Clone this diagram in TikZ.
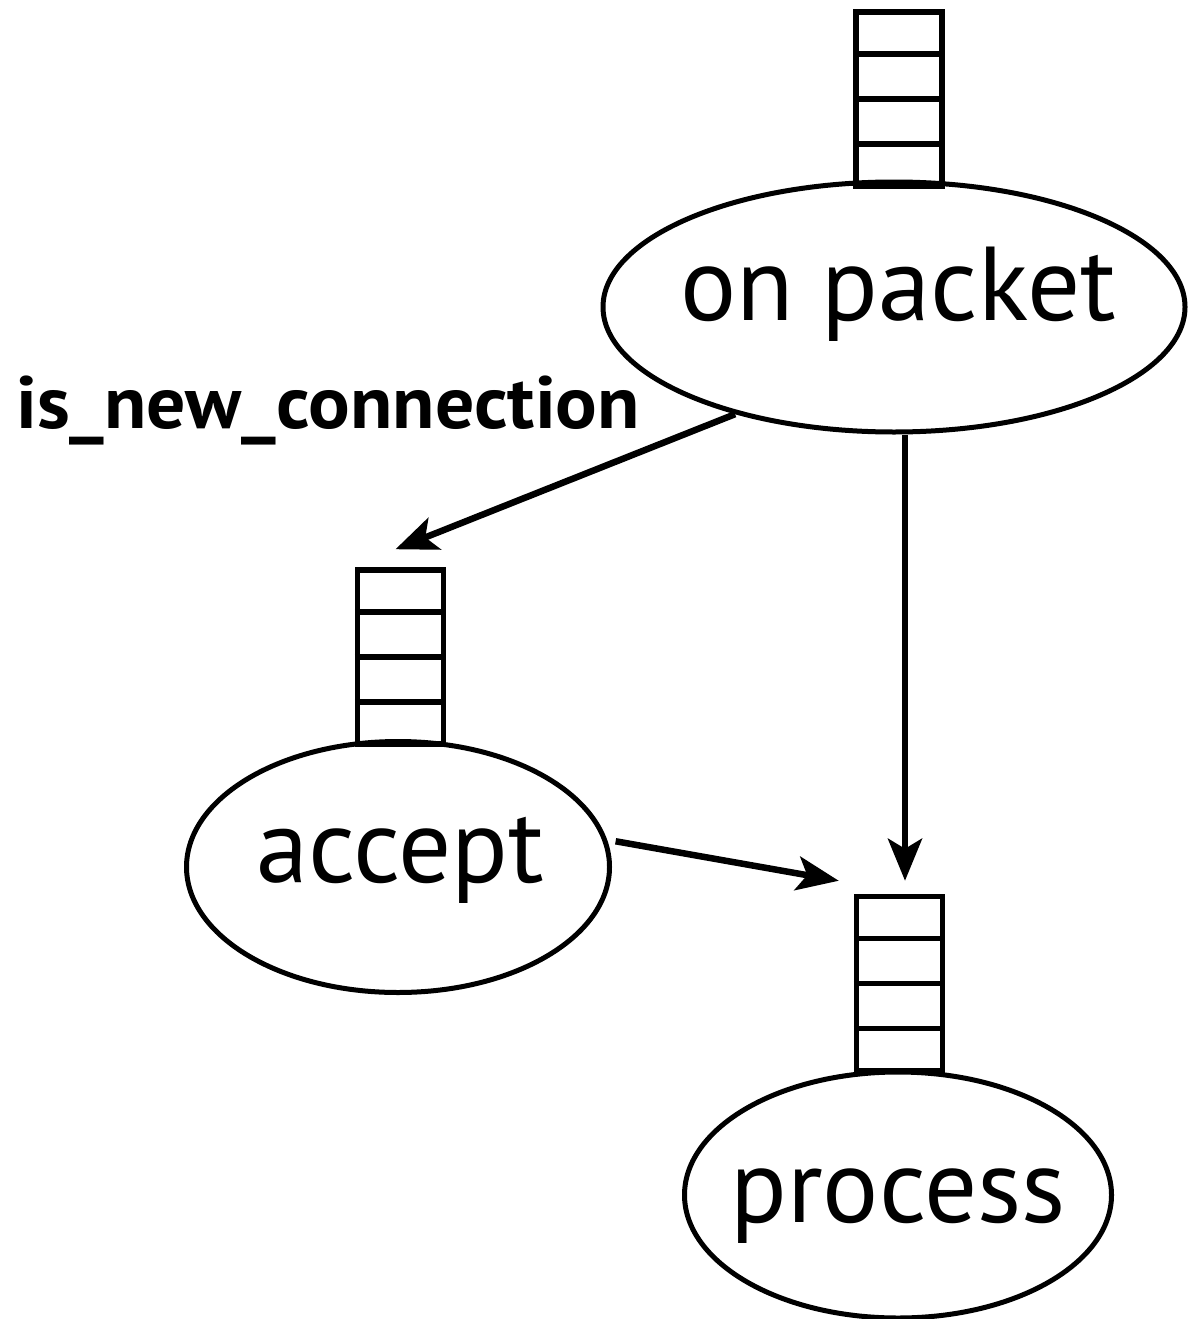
\documentclass[tikz,border=0pt]{standalone}
\usepackage{fontspec}
\setmainfont{PT Sans}
\usetikzlibrary{shapes.geometric,arrows.meta,calc}
\tikzset{
  task/.style={ellipse, draw, line width=5pt, inner sep=0pt},
  queue/.style={rectangle, draw, line width=5.5pt, minimum width=86pt, minimum height=174pt, inner sep=0pt},
  tasklabel/.style={font=\fontsize{105}{110}\selectfont, inner sep=0pt, anchor=base},
  flow/.style={line width=6.5pt, -{Stealth[length=42pt,width=34pt,inset=10pt]}},
}
\newcommand{\queueslots}[1]{%
  \foreach \k in {1,2,3}
    \draw[line width=5.5pt] ($(#1.north west)!\k/4!(#1.south west)$) -- ($(#1.north east)!\k/4!(#1.south east)$);}
\begin{document}
\begin{tikzpicture}[x=1pt, y=-1pt]
  \useasboundingbox (0,0) rectangle (1187,1319);

  % tasks
  \node[task, minimum width=582pt, minimum height=250pt] (op) at (894,307) {};
  \node[task, minimum width=423pt, minimum height=251pt] (acc) at (398,867) {};
  \node[task, minimum width=427pt, minimum height=246pt] (proc) at (898,1195) {};

  % input queues of the tasks
  \node[queue] (qop) at (899,99) {};
  \node[queue] (qacc) at (400.5,657) {};
  \node[queue] (qproc) at (899.5,983.5) {};
  \queueslots{qop}
  \queueslots{qacc}
  \queueslots{qproc}

  % task names
  \node[tasklabel] (opname) at ($(op)+(4,13)$) {on packet};
  \node[tasklabel] (accname) at ($(acc)+(2,15)$) {accept};
  \node[tasklabel] (procname) at ($(proc)+(0,27)$) {process};

  % guard label
  \node[font=\bfseries\fontsize{74}{78}\selectfont, inner sep=0pt, anchor=base west] (cond) at (16,428) {\scalebox{1.05}[1]{is\_new\_connection}};

  % connectors
  \coordinate (tipA) at ($(qacc.north)+(-5,-18)$);
  \coordinate (tipB) at ($(qproc.north)+(5.5,-13)$);
  \coordinate (tipC) at ($(qproc.north west)+(-15,-13)$);
  \draw[flow] (op.214.7) -- (tipA);
  \draw[flow] (tipB |- op.south) -- (tipB);
  \draw[flow] ($(acc.7)+(8,0)$) -- (tipC);
\end{tikzpicture}
\end{document}
